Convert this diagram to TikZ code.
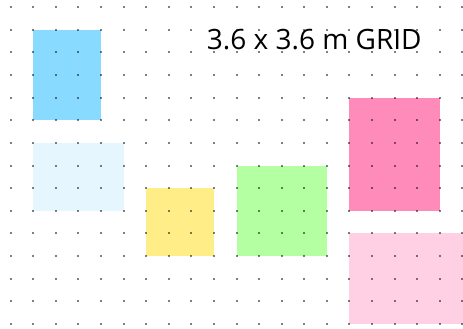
\documentclass[tikz,border=0pt]{standalone}
\usepackage{fontspec}
\setmainfont{Open Sans}
\definecolor{cblue}{HTML}{88DBFF}
\definecolor{clightblue}{HTML}{E5F6FF}
\definecolor{cyellow}{HTML}{FFEE88}
\definecolor{cgreen}{HTML}{B3FFA1}
\definecolor{cpink}{HTML}{FF8BBA}
\definecolor{clightpink}{HTML}{FFD0E3}
\tikzset{
  zone/.style={draw=none},
  griddot/.style={fill=black, fill opacity=0.5},
  titletext/.style={anchor=base west, inner sep=0pt, font=\fontsize{28}{30}\selectfont}
}
\begin{document}
\begin{tikzpicture}[x=22.58pt,y=-22.6pt]
\useasboundingbox[fill=white] (-10.7pt,7.3pt) rectangle (452.3pt,-321.7pt);
% zones
\fill[zone, cblue] (1,1) rectangle (4,5);
\fill[zone, clightblue] (1,6) rectangle (5,9);
\fill[zone, cyellow] (6,8) rectangle (9,11);
\fill[zone, cgreen] (10,7) rectangle (14,11);
\fill[zone, cpink] (15,4) rectangle (19,9);
\fill[zone, clightpink] (15,10) rectangle (20.05,14);
% dots
\foreach \i in {0,...,20}{
  \foreach \j in {0,...,14}{
    \fill[griddot] (\i,\j) ++(-1pt,-1pt) rectangle ++(2pt,2pt);
  }
}
\node[titletext] (title) at (196pt,-41.7pt) {3.6 x 3.6 m GRID};
\end{tikzpicture}
\end{document}
